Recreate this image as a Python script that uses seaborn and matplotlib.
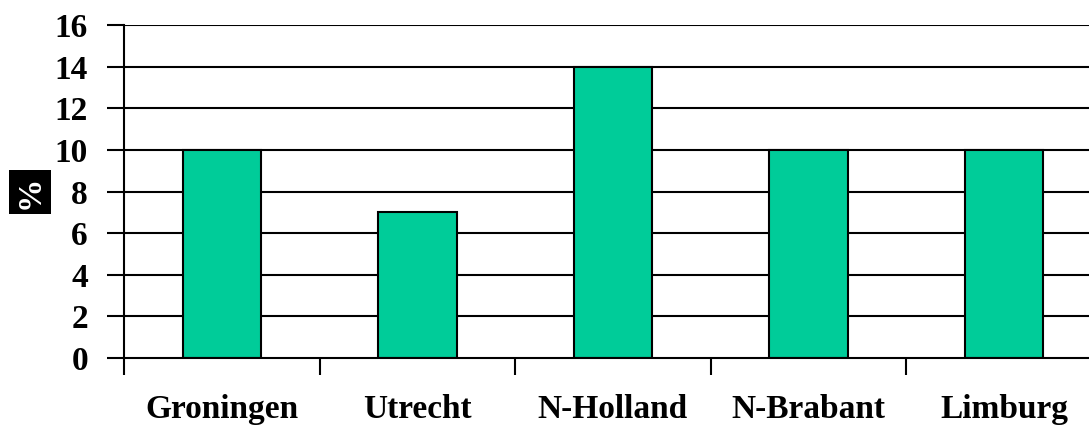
import numpy as np
import pandas as pd
import seaborn as sns
import matplotlib
matplotlib.use("Agg")
import matplotlib.pyplot as plt

provinces = ["Groningen", "Utrecht", "N-Holland", "N-Brabant", "Limburg"]
percent = [10, 7, 14, 10, 10]
yticks = [0, 2, 4, 6, 8, 10, 12, 14, 16]

df = pd.DataFrame({"provincie": provinces, "pct": percent})

sns.set_style("white")
plt.rcParams['font.family'] = ['Liberation Serif', 'DejaVu Serif']
plt.rcParams['font.weight'] = 'bold'
plt.rcParams['text.color'] = 'black'
plt.rcParams['xtick.color'] = 'black'
plt.rcParams['ytick.color'] = 'black'

fig = plt.figure(figsize=(10.89, 4.25), dpi=100)
ax = fig.add_axes([124 / 1089, 67 / 425, 978 / 1089, 333 / 425])

sns.barplot(data=df, x="provincie", y="pct", color="#00CC99", width=0.4,
            edgecolor="black", linewidth=1.5, saturation=1, ax=ax, zorder=3)

ax.set_xlim(-0.5, len(provinces) - 0.5)
ax.set_ylim(0, 16)
ax.set_yticks(yticks)
ax.set_yticklabels([str(v) for v in yticks], fontsize=24, fontweight='bold')
for y in yticks[1:]:
    ax.axhline(y, color="black", linewidth=1.5, zorder=1)

# category borders get the tick marks, names sit in the middle
ax.set_xticks(np.arange(len(provinces) + 1) - 0.5)
ax.set_xticklabels([])
ax.set_xticks(np.arange(len(provinces)), minor=True)
ax.set_xticklabels(provinces, minor=True, fontsize=24, fontweight='bold')
ax.tick_params(axis='x', which='major', length=12, width=1.5, direction='out', bottom=True)
ax.tick_params(axis='x', which='minor', length=0, pad=26)
ax.tick_params(axis='y', length=12, width=1.5, direction='out', left=True, pad=14)

for side in ["top", "right"]:
    ax.spines[side].set_visible(False)
for side in ["left", "bottom"]:
    ax.spines[side].set_color("black")
    ax.spines[side].set_linewidth(1.5)
ax.spines["bottom"].set_zorder(4)

ax.set_xlabel("")
ax.set_ylabel("")
fig.text(30 / 1089, 1 - 192 / 425, "%", rotation=90, color="white", fontsize=24,
         fontweight='bold', ha='center', va='center',
         bbox=dict(facecolor="black", edgecolor="none", pad=4))

fig.savefig("out.png", dpi=100)
